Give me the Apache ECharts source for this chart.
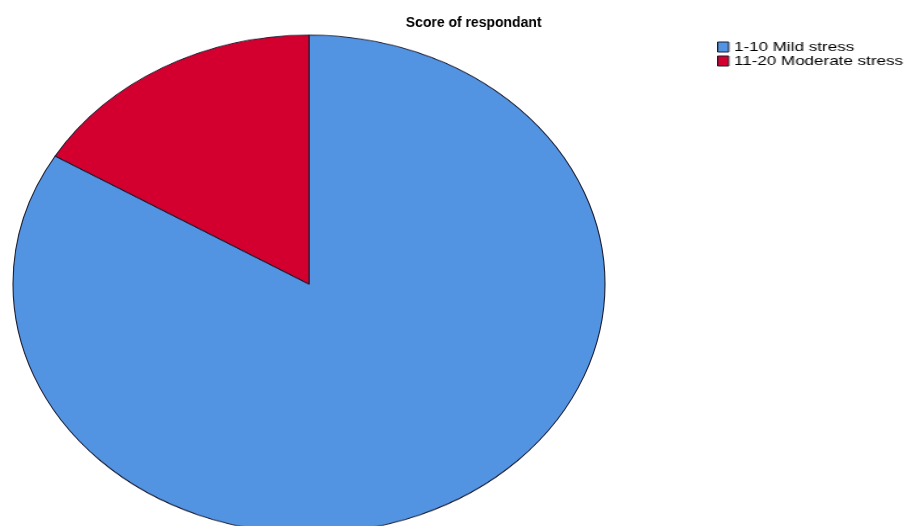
<!DOCTYPE html>
<html>
<head>
<meta charset="utf-8">
<script src="https://cdn.jsdelivr.net/npm/echarts@6/dist/echarts.min.js"></script>
<style>
html,body{margin:0;padding:0;background:#fff;width:906px;height:526px;overflow:hidden;position:relative;}
#pie{position:absolute;left:0;top:0;width:906px;height:700px;transform-origin:0 0;transform:scaleY(0.841);}
#overlay{position:absolute;left:0;top:0;width:906px;height:60px;transform-origin:469px 0;transform:scaleX(0.93);}
#leg{position:absolute;left:717px;top:0;width:160px;height:100px;transform-origin:0 0;transform:scaleX(1.31);}
</style>
</head>
<body>
<div id="pie"></div>
<div id="overlay"></div>
<div id="leg"></div>
<script>
const titleText = 'Score of respondant';
const categories = ['1-10 Mild stress', '11-20 Moderate stress'];
const percents = [83.6, 16.4];
const colors = ['#5294e2', '#d3002f'];

const data = categories.map((c, i) => ({ name: c, value: percents[i], itemStyle: { color: colors[i] } }));

const pieChart = echarts.init(document.getElementById('pie'), null, { renderer: 'canvas' });
pieChart.setOption({
  animation: false,
  series: [{
    type: 'pie',
    center: [309, 337.7],
    radius: [0, 296],
    startAngle: 90,
    clockwise: true,
    label: { show: false },
    labelLine: { show: false },
    emphasis: { disabled: true },
    itemStyle: { borderColor: '#1c1c30', borderWidth: 1.1 },
    data: data
  }]
});

const ov = echarts.init(document.getElementById('overlay'), null, { renderer: 'canvas' });
ov.setOption({
  animation: false,
  title: {
    text: titleText,
    left: 469, top: 10, textAlign: 'center',
    textStyle: { fontFamily: 'Liberation Sans, Arial, sans-serif', fontSize: 15, fontWeight: 'bold', color: '#000' }
  }
});

const lg = echarts.init(document.getElementById('leg'), null, { renderer: 'canvas' });
lg.setOption({
  animation: false,
  legend: {
    orient: 'vertical',
    left: 0, top: 40,
    padding: 0,
    itemWidth: 8.4, itemHeight: 10,
    itemGap: 0,
    icon: 'rect',
    selectedMode: false,
    textStyle: { fontFamily: 'Liberation Sans, Arial, sans-serif', fontSize: 13, lineHeight: 14, color: '#000', padding: [0, 0, 0, -1] },
    data: categories.map((c, i) => ({ name: c, itemStyle: { color: colors[i], borderColor: '#1c1c30', borderWidth: 1 } }))
  },
  series: [{
    type: 'pie',
    center: [-500, -500],
    radius: [0, 1],
    silent: true,
    label: { show: false },
    data: data
  }]
});
</script>
</body>
</html>
